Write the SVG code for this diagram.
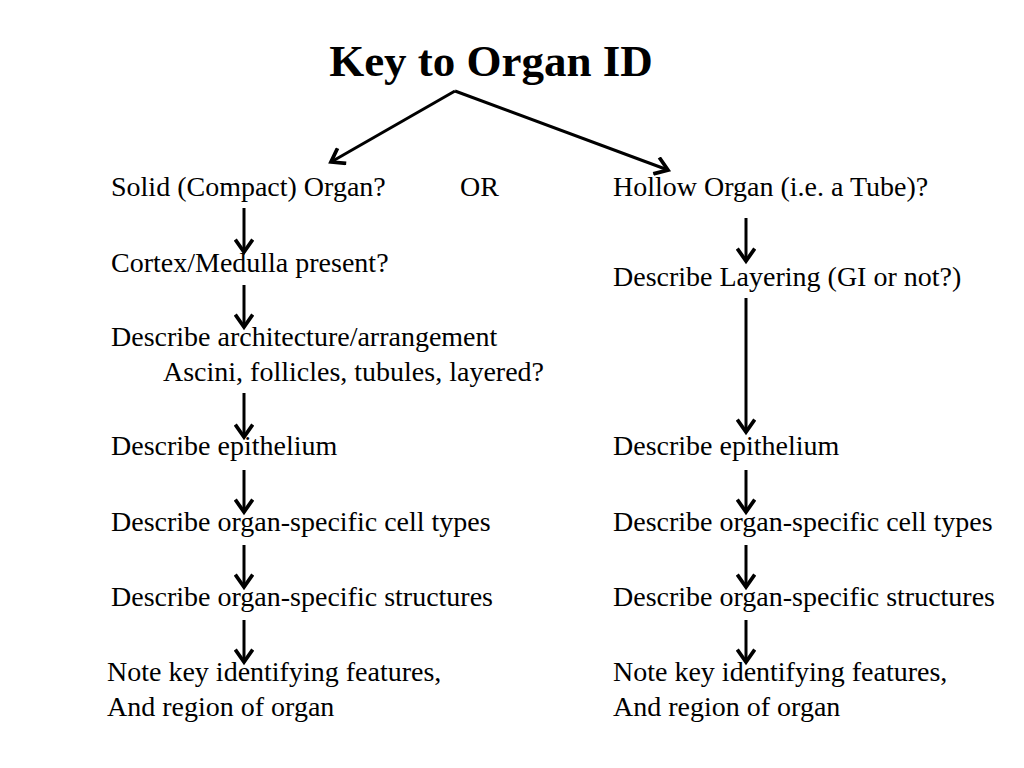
<svg xmlns="http://www.w3.org/2000/svg" width="1024" height="768" viewBox="0 0 1024 768">
<style>
.t{font-family:"Liberation Serif","Times New Roman",serif;font-size:28px;fill:#000}
.title{font-family:"Liberation Serif","Times New Roman",serif;font-size:45px;font-weight:bold;fill:#000}
.c{stroke:#000;stroke-width:3;fill:none}
</style>
<defs>
<marker id="ah" markerUnits="userSpaceOnUse" markerWidth="20" markerHeight="20" refX="12" refY="8" orient="auto" viewBox="0 0 16 16">
<path d="M2,1 L12,8 L2,15" fill="none" stroke="#000" stroke-width="3" stroke-linejoin="miter"/>
</marker>
</defs>
<rect width="1024" height="768" fill="#fff"/>
<g id="title"><text class="title" x="491" y="76" text-anchor="middle">Key to Organ ID</text></g>
<g id="connectors">
<path class="c" d="M455,91 L331,162" marker-end="url(#ah)"/>
<path class="c" d="M455,91 L668,170" marker-end="url(#ah)"/>
<path class="c" d="M244,208 L244,252" marker-end="url(#ah)"/>
<path class="c" d="M244,285 L244,327" marker-end="url(#ah)"/>
<path class="c" d="M244,393 L244,437" marker-end="url(#ah)"/>
<path class="c" d="M244,470 L244,512" marker-end="url(#ah)"/>
<path class="c" d="M244,545 L244,587" marker-end="url(#ah)"/>
<path class="c" d="M244,620 L244,662" marker-end="url(#ah)"/>
<path class="c" d="M746,218 L746,261" marker-end="url(#ah)"/>
<path class="c" d="M746,298 L746,432" marker-end="url(#ah)"/>
<path class="c" d="M746,470 L746,512" marker-end="url(#ah)"/>
<path class="c" d="M746,545 L746,587" marker-end="url(#ah)"/>
<path class="c" d="M746,620 L746,662" marker-end="url(#ah)"/>
</g>
<g id="solid"><text class="t" x="111" y="196">Solid (Compact) Organ?</text></g>
<g id="or"><text class="t" x="460" y="196">OR</text></g>
<g id="hollow"><text class="t" x="613" y="196">Hollow Organ (i.e. a Tube)?</text></g>
<g id="cortex"><text class="t" x="111" y="272">Cortex/Medulla present?</text></g>
<g id="layering"><text class="t" x="613" y="286">Describe Layering (GI or not?)</text></g>
<g id="architecture"><text class="t" x="111" y="346">Describe architecture/arrangement</text><text class="t" x="163" y="381">Ascini, follicles, tubules, layered?</text></g>
<g id="epi-left"><text class="t" x="111" y="455">Describe epithelium</text></g>
<g id="epi-right"><text class="t" x="613" y="455">Describe epithelium</text></g>
<g id="cells-left"><text class="t" x="111" y="531">Describe organ-specific cell types</text></g>
<g id="cells-right"><text class="t" x="613" y="531">Describe organ-specific cell types</text></g>
<g id="struct-left"><text class="t" x="111" y="606">Describe organ-specific structures</text></g>
<g id="struct-right"><text class="t" x="613" y="606">Describe organ-specific structures</text></g>
<g id="note-left"><text class="t" x="107" y="681">Note key identifying features,</text><text class="t" x="107" y="716">And region of organ</text></g>
<g id="note-right"><text class="t" x="613" y="681">Note key identifying features,</text><text class="t" x="613" y="716">And region of organ</text></g>
</svg>
